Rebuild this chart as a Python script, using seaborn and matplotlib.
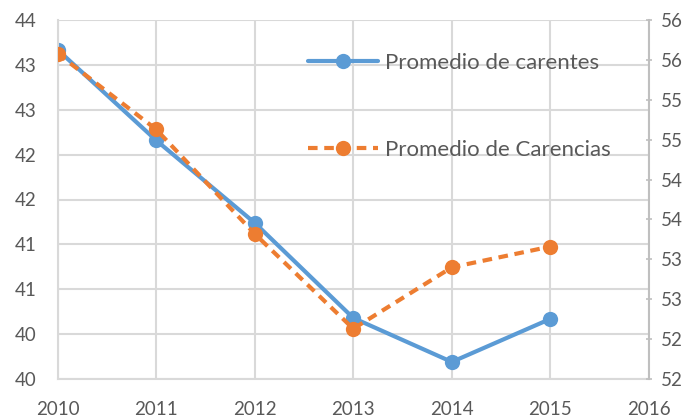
import matplotlib
matplotlib.use("Agg")
import matplotlib.pyplot as plt
import seaborn as sns
import pandas as pd
import numpy as np

years = [2010, 2011, 2012, 2013, 2014, 2015]
carentes = [43.17, 42.16, 41.24, 40.18, 39.69, 40.17]
carencias = [55.58, 54.63, 53.32, 52.13, 52.90, 53.16]
x_ticks = [2010, 2011, 2012, 2013, 2014, 2015, 2016]
left_ticks = [39.5, 40.0, 40.5, 41.0, 41.5, 42.0, 42.5, 43.0, 43.5]
left_labels = ["40", "40", "41", "41", "42", "42", "43", "43", "44"]
right_ticks = [51.5, 52.0, 52.5, 53.0, 53.5, 54.0, 54.5, 55.0, 55.5, 56.0]
right_labels = ["52", "52", "53", "53", "54", "54", "55", "55", "56", "56"]
label_a = "Promedio de carentes"
label_b = "Promedio de Carencias"

sns.set_style("white")
plt.rcParams['font.family'] = ['Lato', 'DejaVu Sans']

BLUE = "#5B9BD5"
ORANGE = "#ED7D31"
GRID = "#D9D9D9"
TEXT = "#595959"
TICK_FS = 13.5
LEG_FS = 16

df = pd.DataFrame({"year": years, "carentes": carentes, "carencias": carencias})

fig = plt.figure(figsize=(6.98, 4.2), dpi=100)
ax = fig.add_axes([57.5/698, 41/420, (649-57.5)/698, (379-20)/420])
ax2 = ax.twinx()

sns.lineplot(data=df, x="year", y="carentes", ax=ax, color=BLUE, linewidth=3.0,
             marker="o", markersize=11, markeredgewidth=0, label=label_a, legend=False)
sns.lineplot(data=df, x="year", y="carencias", ax=ax2, color=ORANGE, linewidth=3.0,
             marker="o", markersize=11, markeredgewidth=0, label=label_b, legend=False,
             linestyle=(0, (2.3, 1.6)))

ax.set_xlim(2010, 2016)
ax.set_ylim(39.5, 43.5)
ax2.set_ylim(51.5, 56.0)
ax.set_xticks(x_ticks)
ax.set_xticklabels([str(v) for v in x_ticks])
ax.set_yticks(left_ticks)
ax.set_yticklabels(left_labels)
ax2.set_yticks(right_ticks)
ax2.set_yticklabels(right_labels)
ax.set_xlabel("")
ax.set_ylabel("")
ax2.set_ylabel("")

ax.grid(True, color=GRID, linewidth=1.5)
ax.set_axisbelow(True)
ax2.grid(False)

ax.spines["top"].set_visible(False)
ax2.spines["top"].set_visible(False)
ax.spines["left"].set_color(GRID)
ax.spines["bottom"].set_color(GRID)
ax.spines["right"].set_visible(False)
ax2.spines["left"].set_visible(False)
ax2.spines["bottom"].set_visible(False)
ax2.spines["right"].set_color("#BFBFBF")
ax2.spines["right"].set_linewidth(1.5)
ax.spines["left"].set_linewidth(1.5)
ax.spines["bottom"].set_linewidth(1.5)

ax.tick_params(axis="x", length=0, labelsize=TICK_FS, labelcolor=TEXT, pad=16)
ax.tick_params(axis="y", length=0, labelsize=TICK_FS, labelcolor=TEXT, pad=15)
ax2.tick_params(axis="y", length=5, width=1.2, color="#BFBFBF", direction="inout",
                labelsize=TICK_FS, labelcolor=TEXT, pad=6)

h1, l1 = ax.get_legend_handles_labels()
h2, l2 = ax2.get_legend_handles_labels()
leg = ax2.legend(h1 + h2, l1 + l2, loc="upper left",
                 bbox_to_anchor=(308/698, 1 - 53/420), bbox_transform=fig.transFigure,
                 frameon=False, fontsize=LEG_FS, labelspacing=3.0, handlelength=3.15,
                 handletextpad=0.3, borderpad=0, borderaxespad=0)
for t in leg.get_texts():
    t.set_color(TEXT)

fig.savefig("out.png", dpi=100)
